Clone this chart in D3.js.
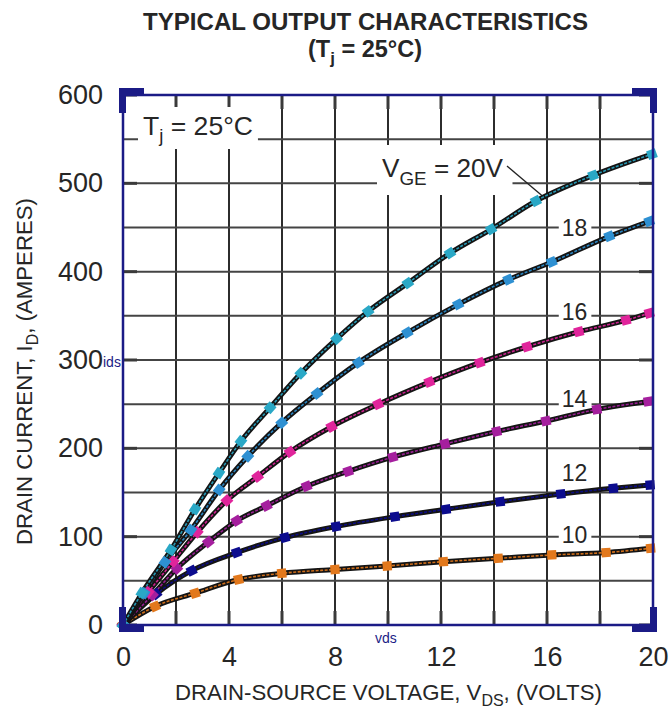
<!DOCTYPE html>
<html>
<head>
<meta charset="utf-8">
<script src="https://cdn.jsdelivr.net/npm/d3@7"></script>
<style>
  html, body { margin: 0; padding: 0; background: #fff; }
  svg { display: block; font-family: "Liberation Sans", Arial, Helvetica, sans-serif; }
</style>
</head>
<body>
<svg id="chart" width="670" height="713"></svg>
<script>
// Output characteristics: I_D (amperes) versus V_DS (volts), one curve per gate voltage.
const gateVoltages = [10, 12, 14, 16, 18, 20];

const vge10 = [[0,0],[1.21,21],[2.72,36],[4.36,51.5],[5.99,58.5],[8.0,62.8],[9.97,66.8],[12.09,71.7],[14.16,75.5],[16.18,79.3],[18.23,82],[19.91,86.8]];
const vge12 = [[0,0],[1.25,35],[2.59,61.5],[4.29,82],[6.11,99],[8.04,111.5],[10.26,122.6],[12.19,131],[14.23,139.6],[16.52,148.3],[18.5,154.8],[19.89,158.5]];
const vge14 = [[0,0],[1.11,34],[2.03,64],[3.22,94],[4.29,118],[5.42,135],[6.93,157],[8.5,174],[10.18,190],[12.15,205],[14.1,219],[15.96,231],[17.88,244],[19.82,253]];
const vge16 = [[0,0],[0.95,37],[1.9,72],[2.8,105],[3.92,141],[5.08,168],[6.3,196],[7.87,224.5],[9.63,250],[11.56,275],[13.46,297],[15.25,315],[17.2,332],[18.98,345],[19.86,353]];
const vge18 = [[0,0],[0.8,36],[1.58,71],[2.56,107.5],[3.63,153],[4.71,191],[5.99,229],[7.32,262],[8.88,297],[10.73,331],[12.65,363],[14.54,391],[16.18,411],[18.35,440],[19.86,457]];
const vge20 = [[0,0],[0.71,36],[1.81,85],[2.72,131],[3.62,172],[4.45,208],[5.55,246],[6.71,285],[8.06,324],[9.25,355],[10.75,387],[12.34,421],[13.89,448],[15.58,480],[17.74,509],[19.96,533]];

const seriesColors = ["#e2781c", "#0c0c8e", "#a51f9e", "#e0249b", "#2e90d2", "#2aa8c6"];

const xTicks = [0, 4, 8, 12, 16, 20];
const yTicks = [0, 100, 200, 300, 400, 500, 600];
const xGrid = [0, 2, 4, 6, 8, 10, 12, 14, 16, 18, 20];
const yGrid = [0, 50, 100, 150, 200, 250, 300, 350, 400, 450, 500, 550, 600];

const curveLabels = ["10", "12", "14", "16", "18"];

const seriesData = [vge10, vge12, vge14, vge16, vge18, vge20];
const series = gateVoltages.map((v, i) => ({ vge: v, data: seriesData[i], color: seriesColors[i] }));

// ---------------------------------------------------------------------------
const svg = d3.select("#chart");
const navy = "#1b1b86";
const ink = "#262626";

const x = d3.scaleLinear().domain([0, 20]).range([123, 653]);
const y = d3.scaleLinear().domain([0, 600]).range([625, 95]);

// scale font size so that the rendered text spans the wanted width
function fitWidth(sel, target) {
  const node = sel.node();
  const fs = parseFloat(sel.attr("font-size"));
  const w = node.getComputedTextLength();
  sel.attr("font-size", (fs * target / w).toFixed(2));
}

// titles
const t1 = svg.append("text").attr("x", 365.5).attr("y", 30).attr("text-anchor", "middle")
  .attr("font-weight", "bold").attr("font-size", 21).attr("fill", ink)
  .text("TYPICAL OUTPUT CHARACTERISTICS");
fitWidth(t1, 445);
const t2 = svg.append("text").attr("x", 365).attr("y", 57).attr("text-anchor", "middle")
  .attr("font-weight", "bold").attr("font-size", 21).attr("fill", ink);
t2.append("tspan").text("(T");
t2.append("tspan").attr("font-size", "0.72em").attr("dy", 7).text("j");
t2.append("tspan").attr("dy", -7).text(" = 25°C)");
fitWidth(t2, 114);

// grid
const grid = svg.append("g");
grid.selectAll("line.v").data(xGrid).join("line")
  .attr("x1", d => x(d)).attr("x2", d => x(d)).attr("y1", y(600)).attr("y2", y(0))
  .attr("stroke", "#2c2c2c").attr("stroke-width", 2);
grid.selectAll("line.h").data(yGrid).join("line")
  .attr("x1", x(0)).attr("x2", x(20)).attr("y1", d => y(d)).attr("y2", d => y(d))
  .attr("stroke", "#444").attr("stroke-width", 2);

// inner tick marks on all four sides
const ticks = svg.append("g").attr("stroke", "#3a3a3a").attr("stroke-width", 3);
yTicks.forEach(v => {
  ticks.append("line").attr("x1", x(0)).attr("x2", x(0) + 14).attr("y1", y(v)).attr("y2", y(v));
  ticks.append("line").attr("x1", x(20) - 14).attr("x2", x(20)).attr("y1", y(v)).attr("y2", y(v));
});
xGrid.forEach(v => {
  ticks.append("line").attr("x1", x(v)).attr("x2", x(v)).attr("y1", y(600)).attr("y2", y(600) + 14);
  ticks.append("line").attr("x1", x(v)).attr("x2", x(v)).attr("y1", y(0) - 14).attr("y2", y(0));
});

// labels sitting on white patches over the grid
const labels = svg.append("g");
function patch(textSel, padL, padR, padT, padB) {
  const b = textSel.node().getBBox();
  labels.insert("rect", ":first-child")
    .attr("x", b.x - padL).attr("y", b.y - padT)
    .attr("width", b.width + padL + padR).attr("height", b.height + padT + padB)
    .attr("fill", "#fff");
}

const tj = labels.append("text").attr("x", 143).attr("y", 135).attr("font-size", 25).attr("fill", ink);
tj.append("tspan").text("T");
tj.append("tspan").attr("font-size", "0.7em").attr("dy", 7).text("j");
tj.append("tspan").attr("dy", -7).text(" = 25°C");
fitWidth(tj, 110);
patch(tj, 5, 5, 4, 3);

const vgeLabel = labels.append("text").attr("x", 382).attr("y", 177).attr("font-size", 25).attr("fill", ink);
vgeLabel.append("tspan").text("V");
vgeLabel.append("tspan").attr("font-size", "0.72em").attr("dy", 8).text("GE");
vgeLabel.append("tspan").attr("dy", -8).text(" = 20V");
fitWidth(vgeLabel, 121);
patch(vgeLabel, 5, 9, 8, 6);
labels.append("line").attr("x1", 507).attr("y1", 166).attr("x2", 546).attr("y2", 199)
  .attr("stroke", "#222").attr("stroke-width", 1.3);

const labelVds = 17.04;
const labelAmps = [93, 162.5, 246.8, 345, 440];
curveLabels.forEach((txt, i) => {
  const t = labels.append("text").attr("x", x(labelVds)).attr("y", y(labelAmps[i]))
    .attr("text-anchor", "middle").attr("font-size", 23).attr("fill", ink).text(txt);
  patch(t, 3, 4, 1, 1);
});

// curves: dark body with a thin coloured core, square markers at the sample points
const plot = svg.append("g");
const line = d3.line().x(d => x(d[0])).y(d => y(d[1])).curve(d3.curveMonotoneX);

series.forEach(s => {
  plot.append("path").attr("d", line(s.data)).attr("fill", "none")
    .attr("stroke", "#141414").attr("stroke-width", 5).attr("stroke-linejoin", "round").attr("stroke-linecap", "round");
  plot.append("path").attr("d", line(s.data)).attr("fill", "none")
    .attr("stroke", s.color).attr("stroke-width", 1.6).attr("stroke-dasharray", "3 1.5").attr("opacity", 0.9);
});
series.forEach(s => {
  const pts = s.data.map(d => [x(d[0]), y(d[1])]);
  plot.selectAll(null).data(pts).join("rect")
    .attr("x", -4.6).attr("y", -4.6).attr("width", 9.2).attr("height", 9.2)
    .attr("fill", s.color)
    .attr("transform", (p, i) => {
      const a = pts[Math.max(0, i - 1)], b = pts[Math.min(pts.length - 1, i + 1)];
      const ang = Math.atan2(b[1] - a[1], b[0] - a[0]) * 180 / Math.PI;
      return `translate(${p[0]},${p[1]}) rotate(${ang})`;
    });
});

// frame and corner brackets
svg.append("rect").attr("x", x(0)).attr("y", y(600)).attr("width", x(20) - x(0)).attr("height", y(0) - y(600))
  .attr("fill", "none").attr("stroke", navy).attr("stroke-width", 2.5);
const corners = [[x(0), y(600), -1, -1], [x(20), y(600), 1, -1], [x(0), y(0), -1, 1], [x(20), y(0), 1, 1]];
corners.forEach(([cx, cy, sx, sy]) => {
  const L = 25, T = 7;
  const ox = cx + sx * 4, oy = cy + sy * 7;
  svg.append("path").attr("fill", navy)
    .attr("d", `M${ox},${oy} L${ox - sx * L},${oy} L${ox - sx * L},${oy - sy * T} L${ox - sx * T},${oy - sy * T} L${ox - sx * T},${oy - sy * L} L${ox},${oy - sy * L} Z`);
});

// axes
const xAxis = svg.append("g").attr("transform", `translate(0,${y(0)})`)
  .call(d3.axisBottom(x).tickValues(xTicks).tickSize(0).tickPadding(22).tickFormat(d3.format("d")));
const yAxis = svg.append("g").attr("transform", `translate(${x(0)},0)`)
  .call(d3.axisLeft(y).tickValues(yTicks).tickSize(0).tickPadding(20).tickFormat(d3.format("d")));
[xAxis, yAxis].forEach(a => {
  a.select(".domain").remove();
  a.selectAll("text").attr("font-size", 27).attr("fill", ink).attr("font-family", null);
});

// axis titles
const xt = svg.append("text").attr("x", 175).attr("y", 700).attr("font-size", 21).attr("fill", ink);
xt.append("tspan").text("DRAIN-SOURCE VOLTAGE, V");
xt.append("tspan").attr("font-size", "0.72em").attr("dy", 6).text("DS");
xt.append("tspan").attr("dy", -6).text(", (VOLTS)");
fitWidth(xt, 427);

const yt = svg.append("text").attr("transform", "translate(32,371.5) rotate(-90)")
  .attr("text-anchor", "middle").attr("font-size", 20).attr("fill", ink);
yt.append("tspan").text("DRAIN CURRENT, I");
yt.append("tspan").attr("font-size", "0.72em").attr("dy", 6).text("D");
yt.append("tspan").attr("dy", -6).text(", (AMPERES)");
fitWidth(yt, 347);

// small variable tags
svg.append("text").attr("x", 103).attr("y", 367).attr("font-size", 14).attr("fill", navy).text("ids");
svg.append("text").attr("x", 375).attr("y", 643).attr("font-size", 14).attr("fill", navy).text("vds");
</script>
</body>
</html>
